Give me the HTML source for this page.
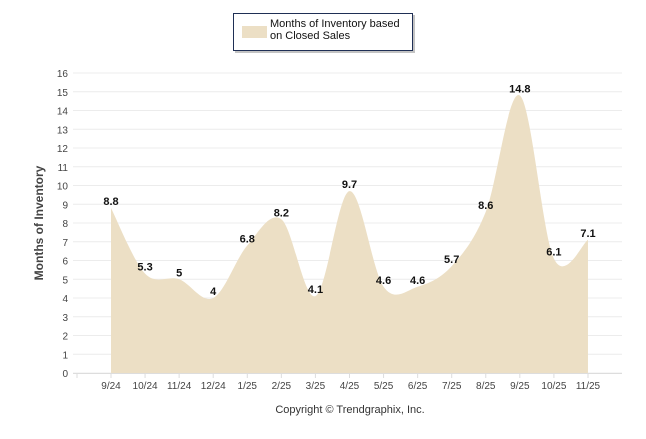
<!DOCTYPE html>
<html><head><meta charset="utf-8"><style>
body{margin:0;background:#fff;font-family:"Liberation Sans",sans-serif}
svg text{font-family:"Liberation Sans",sans-serif}
</style></head><body>
<svg width="646" height="434" xmlns="http://www.w3.org/2000/svg">
<g id="grid"></g>
<g id="area"></g>
<g id="labels"></g>
<g id="yticks"></g>
<g id="xticks"></g>
<text x="43" y="223" transform="rotate(-90 43 223)" text-anchor="middle" font-size="12" font-weight="bold" fill="#444">Months of Inventory</text>
<g>
<rect x="235" y="15" width="180" height="38" fill="#888" opacity="0.5"/>
<rect x="233.5" y="13.5" width="179" height="37" fill="#fff" stroke="#1f2f55" stroke-width="1"/>
<rect x="242" y="26" width="25" height="12" fill="#ecdfc5"/>
<text x="270" y="27" font-size="11" fill="#111">Months of Inventory based</text>
<text x="270" y="39" font-size="11" fill="#111">on Closed Sales</text>
</g>
<text x="350" y="413" text-anchor="middle" font-size="11" fill="#333">Copyright © Trendgraphix, Inc.</text>
</svg>
<script>
const categories=["9/24","10/24","11/24","12/24","1/25","2/25","3/25","4/25","5/25","6/25","7/25","8/25","9/25","10/25","11/25"];
const values=[8.8,5.3,5,4,6.8,8.2,4.1,9.7,4.6,4.6,5.7,8.6,14.8,6.1,7.1];
const yTicks=[0,1,2,3,4,5,6,7,8,9,10,11,12,13,14,15,16];
const NS="http://www.w3.org/2000/svg";
const x=i=>111+i*34.07, y=v=>373-v*18.75;
function mk(t,a,p){const e=document.createElementNS(NS,t);for(const k in a)e.setAttribute(k,a[k]);p.appendChild(e);return e;}
const g=document.getElementById('grid'),yt=document.getElementById('yticks'),xt=document.getElementById('xticks');
yTicks.forEach(v=>{
 const l=mk('line',{x1:73,x2:622,y1:y(v),y2:y(v),stroke:'#ececec'},g);
 
 
 const t=mk('text',{x:68,y:y(v)+4,'text-anchor':'end','font-size':10,fill:'#444'},yt);
 
 
 t.textContent=v;
});
mk('line',{x1:73,x2:622,y1:373.5,y2:373.5,stroke:'#ddd'},xt);
mk('line',{x1:77,x2:77,y1:373,y2:378,stroke:'#ddd'},xt);
categories.forEach((c,i)=>{
 mk('line',{x1:x(i),x2:x(i),y1:373,y2:378,stroke:'#ddd'},xt);
 const t=mk('text',{x:x(i),y:389,'text-anchor':'middle','font-size':10,fill:'#444'},xt);
 
 
 t.textContent=c;
});
const pts=values.map((v,i)=>[x(i),y(v)]);
let d=`M${pts[0][0]},${y(0)} L${pts[0][0]},${pts[0][1]}`;
for(let i=0;i<pts.length-1;i++){
 const p0=pts[Math.max(0,i-1)],p1=pts[i],p2=pts[i+1],p3=pts[Math.min(pts.length-1,i+2)];
 const k=6;
 d+=` C${p1[0]+(p2[0]-p0[0])/k},${p1[1]+(p2[1]-p0[1])/k} ${p2[0]-(p3[0]-p1[0])/k},${p2[1]-(p3[1]-p1[1])/k} ${p2[0]},${p2[1]}`;
}
d+=` L${pts[pts.length-1][0]},${y(0)} Z`;
const a=mk('path',{d:d,fill:'#ecdfc5'},document.getElementById('area'));


const lg=document.getElementById('labels');
values.forEach((v,i)=>{
 const t=mk('text',{x:x(i),y:y(v)-3,'text-anchor':'middle','font-size':11,'font-weight':'bold',fill:'#111'},lg);
 
 
 t.textContent=v;
});
</script>
</body></html>
